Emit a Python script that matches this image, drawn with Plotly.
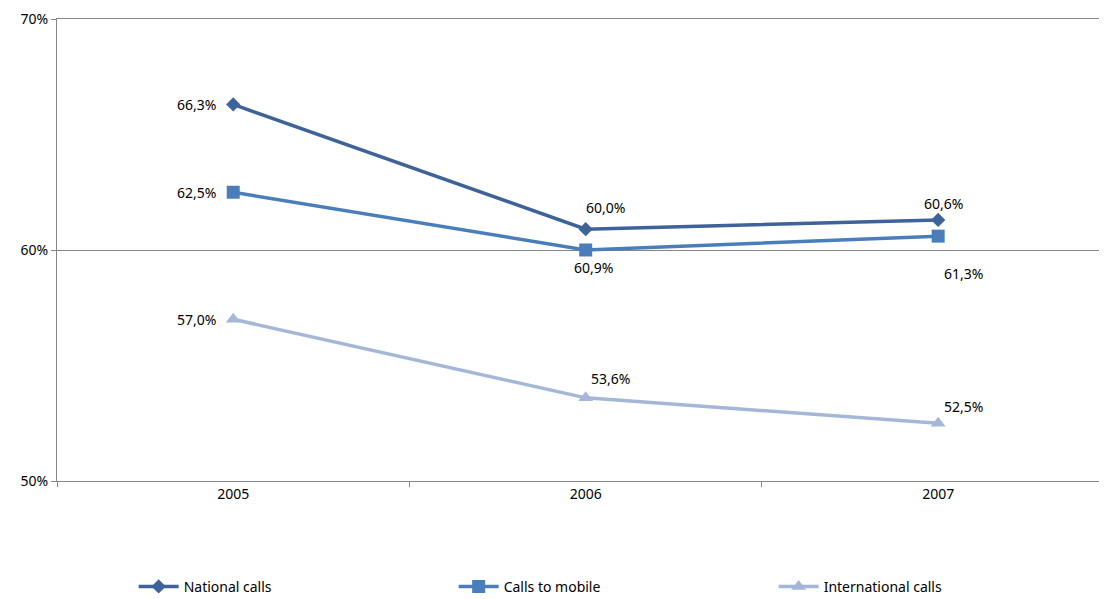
import plotly.graph_objects as go

years = ["2005", "2006", "2007"]
national = [66.3, 60.9, 61.3]
mobile = [62.5, 60.0, 60.6]
international = [57.0, 53.6, 52.5]
series_names = ["National calls", "Calls to mobile", "International calls"]
y_ticks = [50, 60, 70]

colors = ["#3D6399", "#4A7EBB", "#A5B7D6"]
symbols = ["diamond", "square", "triangle-up"]
sizes = [11, 13, 13]

# label offsets (px) per series per point
offsets = [
    [(-37, 0), (8, -38), (25, -54)],
    [(-37, 0), (20, 43), (5, 33)],
    [(-37, 0), (25, 19), (25, 17)],
]

FONT = "Noto Sans"

fig = go.Figure()
all_series = [national, mobile, international]
for name, vals, c, s, sz in zip(series_names, all_series, colors, symbols, sizes):
    fig.add_trace(go.Scatter(
        x=years, y=vals, name=name, mode="lines+markers",
        line=dict(color=c, width=3.5),
        marker=dict(symbol=s, size=sz, color=c),
    ))

for vals, offs in zip(all_series, offsets):
    for i, (v, (dx, dy)) in enumerate(zip(vals, offs)):
        fig.add_annotation(
            x=i, y=v, xref="x", yref="y",
            text=f"{v:.1f}".replace(".", ",") + "%",
            showarrow=False, xshift=dx, yshift=dy,
            font=dict(family=FONT, size=14, color="#000000"),
        )

fig.update_layout(
    width=1099, height=591,
    margin=dict(l=49, r=0, t=11, b=118, autoexpand=False),
    paper_bgcolor="white", plot_bgcolor="white",
    font=dict(family=FONT, size=14, color="#000000"),
    showlegend=True,
    legend=dict(
        orientation="h", x=0.073, y=-0.229, xanchor="left", yanchor="middle",
        entrywidth=265, itemwidth=40, font=dict(family=FONT, size=14),
    ),
    xaxis=dict(
        type="category", range=[-0.5, 2.479], automargin=False,
        showline=True, mirror=True, linecolor="#868686", linewidth=1,
        ticks="outside", ticklen=5, tickcolor="#868686", tickson="boundaries",
        showgrid=False, zeroline=False,
    ),
    yaxis=dict(
        range=[50, 70], tickvals=y_ticks, ticktext=[f"{t}%" for t in y_ticks],
        automargin=False, ticklabeloverflow="allow",
        showline=True, linecolor="#868686", linewidth=1,
        ticks="outside", ticklen=5, tickcolor="#868686",
        showgrid=True, gridcolor="#868686", gridwidth=1, zeroline=False,
    ),
)

fig.write_html("out.html")
